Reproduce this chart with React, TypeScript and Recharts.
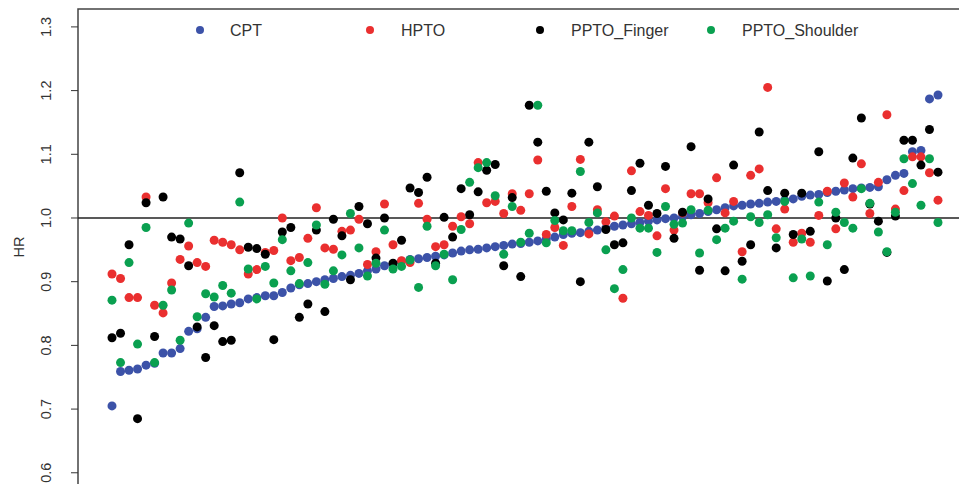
import React from 'react';
import {
  ScatterChart, Scatter, XAxis, YAxis, ReferenceLine, ReferenceArea, Legend,
} from 'recharts';

// x position of each study (1..98), sorted by CPT hazard ratio
const index = Array.from({ length: 98 }, (_, k) => k + 1);

const cpt = [
  0.705, 0.759, 0.761, 0.763, 0.769, 0.772, 0.788, 0.788, 0.795, 0.822,
  0.826, 0.844, 0.861, 0.862, 0.865, 0.867, 0.873, 0.875, 0.878, 0.878,
  0.883, 0.890, 0.895, 0.897, 0.900, 0.903, 0.905, 0.908, 0.910, 0.913,
  0.917, 0.920, 0.925, 0.928, 0.932, 0.935, 0.936, 0.938, 0.940, 0.942,
  0.945, 0.948, 0.950, 0.951, 0.953, 0.955, 0.957, 0.959, 0.960, 0.962,
  0.964, 0.967, 0.970, 0.974, 0.976, 0.977, 0.979, 0.981, 0.984, 0.987,
  0.989, 0.991, 0.993, 0.995, 0.997, 0.999, 1.000, 1.002, 1.005, 1.007,
  1.010, 1.013, 1.016, 1.019, 1.020, 1.022, 1.023, 1.025, 1.026, 1.028,
  1.030, 1.034, 1.036, 1.037, 1.040, 1.042, 1.044, 1.046, 1.047, 1.048,
  1.049, 1.060, 1.067, 1.070, 1.104, 1.106, 1.187, 1.193,
];

const hpto = [
  0.912, 0.905, 0.875, 0.875, 1.033, 0.863, 0.851, 0.898, 0.935, 0.956,
  0.930, 0.924, 0.965, 0.962, 0.958, 0.950, 0.912, 0.919, 0.946, 0.949,
  1.000, 0.933, 0.938, 0.968, 1.016, 0.953, 0.951, 0.979, 0.981, 0.998,
  0.927, 0.947, 1.022, 0.958, 0.933, 0.930, 1.023, 0.998, 0.955, 0.958,
  0.987, 1.002, 0.991, 1.087, 1.024, 1.026, 1.007, 1.038, 1.012, 1.038,
  1.091, 0.974, 0.985, 0.957, 1.018, 1.092, 0.975, 1.013, 0.994, 1.003,
  0.874, 1.074, 1.010, 1.004, 0.972, 1.046, 0.981, 1.008, 1.038, 1.038,
  1.024, 1.063, 1.008, 1.026, 0.947, 1.067, 1.077, 1.205, 0.983, 1.014,
  0.962, 0.976, 0.962, 1.004, 1.042, 0.983, 1.055, 1.033, 1.085, 1.007,
  1.056, 1.162, 1.014, 1.043, 1.096, 1.096, 1.071, 1.028,
];

const finger = [
  0.812, 0.819, 0.958, 0.685, 1.024, 0.814, 1.033, 0.970, 0.967, 0.925,
  0.829, 0.781, 0.831, 0.806, 0.808, 1.071, 0.954, 0.952, 0.943, 0.809,
  0.978, 0.985, 0.844, 0.865, 0.981, 0.853, 0.998, 0.972, 0.903, 1.018,
  0.991, 0.937, 1.000, 0.929, 0.965, 1.047, 1.040, 1.064, 0.929, 1.001,
  0.970, 1.046, 1.005, 1.041, 1.075, 1.084, 0.925, 1.032, 0.908, 1.177,
  1.119, 1.042, 1.008, 0.997, 1.039, 0.900, 1.119, 1.049, 0.982, 0.958,
  0.961, 1.043, 1.086, 1.020, 1.007, 1.081, 0.968, 1.009, 1.112, 0.918,
  1.030, 0.983, 0.917, 1.083, 0.932, 0.958, 1.135, 1.043, 0.953, 1.039,
  0.974, 1.039, 0.979, 1.104, 0.901, 1.000, 0.919, 1.094, 1.157, 1.022,
  0.995, 0.946, 1.003, 1.122, 1.122, 1.083, 1.139, 1.072,
];

const shoulder = [
  0.871, 0.773, 0.930, 0.802, 0.985, 0.773, 0.863, 0.887, 0.808, 0.992,
  0.845, 0.881, 0.876, 0.894, 0.882, 1.025, 0.920, 0.873, 0.924, 0.898,
  0.966, 0.917, 0.897, 0.930, 0.989, 0.896, 0.917, 0.942, 1.007, 0.953,
  0.909, 0.929, 0.981, 0.920, 0.924, 0.934, 0.891, 0.987, 0.925, 0.943,
  0.903, 0.982, 1.056, 1.079, 1.087, 1.035, 0.943, 1.018, 0.962, 0.976,
  1.177, 0.961, 0.996, 0.980, 0.980, 1.073, 0.993, 1.008, 0.950, 0.889,
  0.919, 1.000, 0.984, 0.984, 0.946, 1.018, 0.990, 0.992, 1.013, 0.945,
  1.012, 0.966, 0.984, 0.995, 0.904, 1.002, 0.993, 1.005, 0.969, 1.026,
  0.906, 0.967, 0.909, 1.025, 0.958, 1.009, 0.993, 0.984, 1.046, 1.023,
  0.978, 0.947, 1.009, 1.093, 1.054, 1.020, 1.093, 0.993,
];

const yTicks = [0.6, 0.7, 0.8, 0.9, 1.0, 1.1, 1.2, 1.3];

const FONT = '"Liberation Sans", Arial, Helvetica, sans-serif';
const TEXT = '#333';

const series = [
  { name: 'CPT', color: '#3c52a8', values: cpt },
  { name: 'HPTO', color: '#ea2f2f', values: hpto },
  { name: 'PPTO_Finger', color: '#000000', values: finger },
  { name: 'PPTO_Shoulder', color: '#0aa050', values: shoulder },
];

// legend layout: dot centre and text start, px
const legendDotX = [200, 370, 540, 711];
const legendTextX = [230, 401, 571, 742];

const X_DOMAIN: [number, number] = [-2.993, 101.758];
const Y_DOMAIN: [number, number] = [0.5604, 1.3281];

const dotShape = (color: string) => (props: any) => (
  <circle cx={props.cx} cy={props.cy} r={4.5} fill={color} />
);

function YTick({ y, payload }: any) {
  const bx = 51;
  return (
    <text
      x={bx}
      y={y}
      transform={`rotate(-90, ${bx}, ${y})`}
      textAnchor="middle"
      fontSize={14.5}
      fontFamily={FONT}
      fill={TEXT}
    >
      {payload.value.toFixed(1)}
    </text>
  );
}

function HRLabel() {
  return (
    <text
      x={24}
      y={247}
      transform="rotate(-90, 24, 247)"
      textAnchor="middle"
      fontSize={14.5}
      fontFamily={FONT}
      fill={TEXT}
    >
      HR
    </text>
  );
}

function LegendBox() {
  return (
    <div style={{ position: 'relative', width: 959, height: 50, fontFamily: FONT }}>
      {series.map((s, k) => (
        <React.Fragment key={s.name}>
          <span
            style={{
              position: 'absolute', left: legendDotX[k] - 4, top: 25.5,
              width: 8, height: 8, borderRadius: '50%', background: s.color,
            }}
          />
          <span
            style={{
              position: 'absolute', left: legendTextX[k], top: 23,
              fontSize: 16, lineHeight: '16px', color: TEXT, whiteSpace: 'nowrap',
            }}
          >
            {s.name}
          </span>
        </React.Fragment>
      ))}
    </div>
  );
}

export default function App() {
  return (
    <div style={{ position: 'absolute', left: 0, top: 0, width: 959, height: 484, overflow: 'hidden', background: '#fff' }}>
      <ScatterChart width={980} height={508} margin={{ top: 9, right: 10, bottom: 10, left: 0 }}>
        <XAxis type="number" dataKey="x" domain={X_DOMAIN} allowDataOverflow hide />
        <YAxis
          type="number"
          dataKey="y"
          width={78}
          domain={Y_DOMAIN}
          allowDataOverflow
          ticks={yTicks}
          tickSize={7}
          tickLine={{ stroke: TEXT }}
          axisLine={false}
          tick={<YTick />}
          label={<HRLabel />}
        />
        <ReferenceArea
          x1={X_DOMAIN[0]} x2={X_DOMAIN[1]} y1={Y_DOMAIN[0]} y2={Y_DOMAIN[1]}
          fill="none" fillOpacity={0} stroke="#444" strokeWidth={1.5} strokeOpacity={1}
        />
        <ReferenceLine y={1} stroke="#222" strokeWidth={1.3} />
        <Legend
          layout="horizontal"
          verticalAlign="middle"
          align="center"
          content={<LegendBox />}
          wrapperStyle={{ position: 'absolute', top: 0, left: 0, width: 959, height: 50 }}
        />
        {series.map((s) => (
          <Scatter
            key={s.name}
            name={s.name}
            data={index.map((x, k) => ({ x, y: s.values[k] }))}
            fill={s.color}
            shape={dotShape(s.color)}
            isAnimationActive={false}
          />
        ))}
      </ScatterChart>
    </div>
  );
}
